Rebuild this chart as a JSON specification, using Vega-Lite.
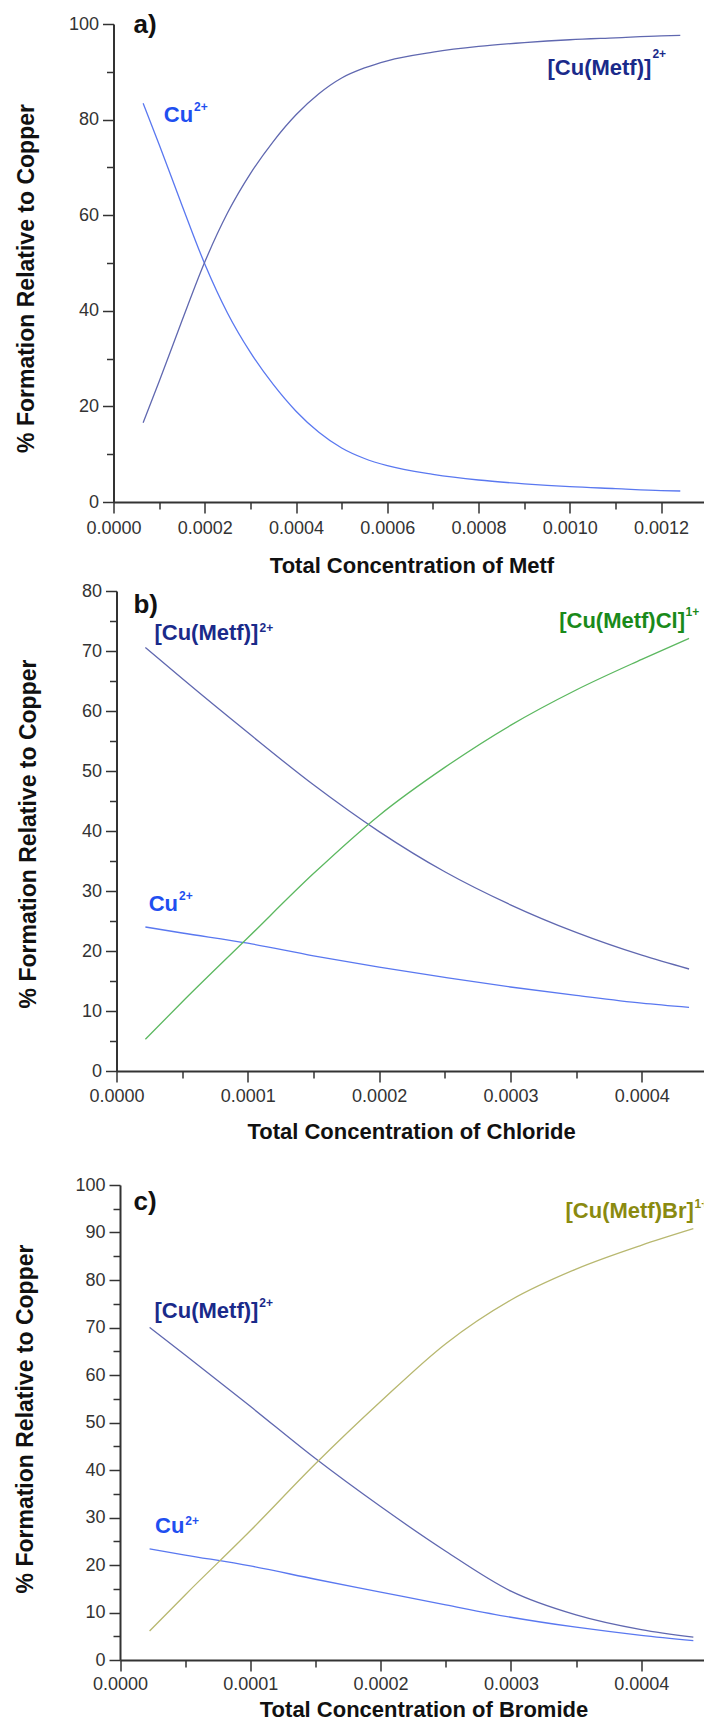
{
  "$schema": "https://vega.github.io/schema/vega-lite/v6.json",
  "autosize": {"type": "pad"},
  "padding": {"top": 12, "left": 13.5, "right": 0, "bottom": 0},
  "background": "white",
  "config": {
    "font": "Liberation Sans",
    "view": {"stroke": null},
    "axis": {
      "grid": false,
      "domainColor": "#333333",
      "domainWidth": 2,
      "tickColor": "#333333",
      "tickWidth": 1.5,
      "labelColor": "#333333",
      "labelFont": "Liberation Sans",
      "labelFontSize": 18,
      "labelFlush": false,
      "labelOverlap": false,
      "titleFont": "Liberation Sans",
      "titleFontSize": 22,
      "titleFontWeight": "bold",
      "titleColor": "#111111"
    }
  },
  "datasets": {
    "curvesA": [
      {"x": 0.000065, "sp": "Cu", "pct": 83.4}, {"x": 0.0001, "sp": "Cu", "pct": 74.8}, {"x": 0.00015, "sp": "Cu", "pct": 62.1}, {"x": 0.0002, "sp": "Cu", "pct": 49.8}, {"x": 0.00025, "sp": "Cu", "pct": 39.5}, {"x": 0.0003, "sp": "Cu", "pct": 31.3}, {"x": 0.00035, "sp": "Cu", "pct": 24.6}, {"x": 0.0004, "sp": "Cu", "pct": 19.0}, {"x": 0.00045, "sp": "Cu", "pct": 14.6}, {"x": 0.0005, "sp": "Cu", "pct": 11.3}, {"x": 0.00055, "sp": "Cu", "pct": 9.1}, {"x": 0.0006, "sp": "Cu", "pct": 7.6}, {"x": 0.0007, "sp": "Cu", "pct": 5.8}, {"x": 0.0008, "sp": "Cu", "pct": 4.6}, {"x": 0.0009, "sp": "Cu", "pct": 3.8}, {"x": 0.001, "sp": "Cu", "pct": 3.2}, {"x": 0.0011, "sp": "Cu", "pct": 2.8}, {"x": 0.0012, "sp": "Cu", "pct": 2.4}, {"x": 0.001242, "sp": "Cu", "pct": 2.3},
      {"x": 0.000065, "sp": "CuMetf", "pct": 16.6}, {"x": 0.0001, "sp": "CuMetf", "pct": 25.2}, {"x": 0.00015, "sp": "CuMetf", "pct": 37.9}, {"x": 0.0002, "sp": "CuMetf", "pct": 50.2}, {"x": 0.00025, "sp": "CuMetf", "pct": 60.5}, {"x": 0.0003, "sp": "CuMetf", "pct": 68.7}, {"x": 0.00035, "sp": "CuMetf", "pct": 75.4}, {"x": 0.0004, "sp": "CuMetf", "pct": 81.0}, {"x": 0.00045, "sp": "CuMetf", "pct": 85.4}, {"x": 0.0005, "sp": "CuMetf", "pct": 88.7}, {"x": 0.00055, "sp": "CuMetf", "pct": 90.8}, {"x": 0.0006, "sp": "CuMetf", "pct": 92.3}, {"x": 0.0007, "sp": "CuMetf", "pct": 94.1}, {"x": 0.0008, "sp": "CuMetf", "pct": 95.3}, {"x": 0.0009, "sp": "CuMetf", "pct": 96.1}, {"x": 0.001, "sp": "CuMetf", "pct": 96.7}, {"x": 0.0011, "sp": "CuMetf", "pct": 97.1}, {"x": 0.0012, "sp": "CuMetf", "pct": 97.5}, {"x": 0.001242, "sp": "CuMetf", "pct": 97.6}
    ],
    "labelsA": [
      {"x": 0.0000438, "y": 98.1, "t": "a)", "sp": "panel", "k": "letter"},
      {"x": 0.0001102, "y": 79.6, "t": "Cu", "sp": "Cu", "k": "main"},
      {"x": 0.0001764, "y": 81.7, "t": "2+", "sp": "Cu", "k": "sup"},
      {"x": 0.000951, "y": 89.3, "t": "[Cu(Metf)]", "sp": "CuMetf", "k": "main"},
      {"x": 0.001181, "y": 92.8, "t": "2+", "sp": "CuMetf", "k": "sup"}
    ],
    "curvesB": [
      {"x": 0.000022, "sp": "Cu", "pct": 24.0}, {"x": 0.00005, "sp": "Cu", "pct": 23.0}, {"x": 0.0001, "sp": "Cu", "pct": 21.3}, {"x": 0.00015, "sp": "Cu", "pct": 19.2}, {"x": 0.0002, "sp": "Cu", "pct": 17.3}, {"x": 0.00025, "sp": "Cu", "pct": 15.6}, {"x": 0.0003, "sp": "Cu", "pct": 14.0}, {"x": 0.00035, "sp": "Cu", "pct": 12.6}, {"x": 0.0004, "sp": "Cu", "pct": 11.3}, {"x": 0.000436, "sp": "Cu", "pct": 10.6},
      {"x": 0.000022, "sp": "CuMetf", "pct": 70.6}, {"x": 0.00005, "sp": "CuMetf", "pct": 65.4}, {"x": 0.0001, "sp": "CuMetf", "pct": 56.4}, {"x": 0.00015, "sp": "CuMetf", "pct": 47.7}, {"x": 0.0002, "sp": "CuMetf", "pct": 39.9}, {"x": 0.00025, "sp": "CuMetf", "pct": 33.2}, {"x": 0.0003, "sp": "CuMetf", "pct": 27.7}, {"x": 0.00035, "sp": "CuMetf", "pct": 23.1}, {"x": 0.0004, "sp": "CuMetf", "pct": 19.3}, {"x": 0.000436, "sp": "CuMetf", "pct": 17.0},
      {"x": 0.000022, "sp": "CuMetfCl", "pct": 5.3}, {"x": 0.00005, "sp": "CuMetfCl", "pct": 11.5}, {"x": 0.0001, "sp": "CuMetfCl", "pct": 22.2}, {"x": 0.00015, "sp": "CuMetfCl", "pct": 32.9}, {"x": 0.0002, "sp": "CuMetfCl", "pct": 42.6}, {"x": 0.00025, "sp": "CuMetfCl", "pct": 50.6}, {"x": 0.0003, "sp": "CuMetfCl", "pct": 57.6}, {"x": 0.00035, "sp": "CuMetfCl", "pct": 63.5}, {"x": 0.0004, "sp": "CuMetfCl", "pct": 68.6}, {"x": 0.000436, "sp": "CuMetfCl", "pct": 72.1}
    ],
    "labelsB": [
      {"x": 0.0000129, "y": 76.3, "t": "b)", "sp": "panel", "k": "letter"},
      {"x": 0.0000289, "y": 71.8, "t": "[Cu(Metf)]", "sp": "CuMetf", "k": "main"},
      {"x": 0.0001089, "y": 73.2, "t": "2+", "sp": "CuMetf", "k": "sup"},
      {"x": 0.0003371, "y": 73.8, "t": "[Cu(Metf)Cl]", "sp": "CuMetfCl", "k": "main"},
      {"x": 0.0004333, "y": 75.9, "t": "1+", "sp": "CuMetfCl", "k": "sup"},
      {"x": 0.0000245, "y": 26.7, "t": "Cu", "sp": "Cu", "k": "main"},
      {"x": 0.0000476, "y": 28.45, "t": "2+", "sp": "Cu", "k": "sup"}
    ],
    "curvesC": [
      {"x": 0.0000227, "sp": "Cu", "pct": 23.4}, {"x": 0.00005, "sp": "Cu", "pct": 22.1}, {"x": 0.0001, "sp": "Cu", "pct": 19.8}, {"x": 0.00015, "sp": "Cu", "pct": 17.0}, {"x": 0.0002, "sp": "Cu", "pct": 14.3}, {"x": 0.00025, "sp": "Cu", "pct": 11.6}, {"x": 0.0003, "sp": "Cu", "pct": 9.0}, {"x": 0.00035, "sp": "Cu", "pct": 6.9}, {"x": 0.0004, "sp": "Cu", "pct": 5.2}, {"x": 0.00044, "sp": "Cu", "pct": 4.1},
      {"x": 0.0000227, "sp": "CuMetf", "pct": 70.0}, {"x": 0.00005, "sp": "CuMetf", "pct": 64.2}, {"x": 0.0001, "sp": "CuMetf", "pct": 53.4}, {"x": 0.00015, "sp": "CuMetf", "pct": 42.4}, {"x": 0.0002, "sp": "CuMetf", "pct": 32.3}, {"x": 0.00025, "sp": "CuMetf", "pct": 22.9}, {"x": 0.0003, "sp": "CuMetf", "pct": 14.5}, {"x": 0.00035, "sp": "CuMetf", "pct": 9.5}, {"x": 0.0004, "sp": "CuMetf", "pct": 6.4}, {"x": 0.00044, "sp": "CuMetf", "pct": 4.8},
      {"x": 0.0000227, "sp": "CuMetfBr", "pct": 6.1}, {"x": 0.00005, "sp": "CuMetfBr", "pct": 13.7}, {"x": 0.0001, "sp": "CuMetfBr", "pct": 27.2}, {"x": 0.00015, "sp": "CuMetfBr", "pct": 41.3}, {"x": 0.0002, "sp": "CuMetfBr", "pct": 54.4}, {"x": 0.00025, "sp": "CuMetfBr", "pct": 66.6}, {"x": 0.0003, "sp": "CuMetfBr", "pct": 75.8}, {"x": 0.00035, "sp": "CuMetfBr", "pct": 82.3}, {"x": 0.0004, "sp": "CuMetfBr", "pct": 87.3}, {"x": 0.00044, "sp": "CuMetfBr", "pct": 90.8}
    ],
    "labelsC": [
      {"x": 0.0000104, "y": 94.7, "t": "c)", "sp": "panel", "k": "letter"},
      {"x": 0.0000265, "y": 71.9, "t": "[Cu(Metf)]", "sp": "CuMetf", "k": "main"},
      {"x": 0.0001069, "y": 74.4, "t": "2+", "sp": "CuMetf", "k": "sup"},
      {"x": 0.0003419, "y": 93.0, "t": "[Cu(Metf)Br]", "sp": "CuMetfBr", "k": "main"},
      {"x": 0.0004409, "y": 95.2, "t": "1+", "sp": "CuMetfBr", "k": "sup"},
      {"x": 0.0000269, "y": 26.7, "t": "Cu", "sp": "Cu", "k": "main"},
      {"x": 0.0000501, "y": 28.5, "t": "2+", "sp": "Cu", "k": "sup"}
    ]
  },
  "vconcat": [
    {
      "width": 590,
      "height": 478,
      "resolve": {"scale": {"color": "independent"}, "axis": {"x": "independent", "y": "independent"}},
      "layer": [
        {
          "data": {"name": "curvesA"},
          "mark": {"type": "line", "interpolate": "monotone", "strokeWidth": 1.3},
          "encoding": {
            "x": {"field": "x", "type": "quantitative", "scale": {"domain": [0, 0.0012929], "range": [0, 590], "nice": false, "zero": false},
              "axis": {"orient": "bottom", "values": [0, 0.0002, 0.0004, 0.0006, 0.0008, 0.001, 0.0012], "format": ".4f", "tickSize": 11, "labelPadding": 6.5, "title": "Total Concentration of Metf", "titleX": 298, "titleY": 70, "titleAlign": "center", "titleBaseline": "alphabetic"}},
            "y": {"field": "pct", "type": "quantitative", "scale": {"domain": [0, 100], "nice": false},
              "axis": {"orient": "left", "values": [0, 20, 40, 60, 80, 100], "format": "d", "tickSize": 11, "labelPadding": 4, "title": "% Formation Relative to Copper", "titleFontSize": 23, "titleX": -87, "titleY": 254, "titleAngle": 270, "titleAlign": "center", "titleBaseline": "middle"}},
            "color": {"field": "sp", "type": "nominal", "scale": {"domain": ["Cu", "CuMetf", "CuMetfCl", "CuMetfBr"], "range": ["#5a78f0", "#6068b0", "#5cb860", "#b8b870"]}, "legend": null}
          }
        },
        {
          "data": {"name": "labelsA"},
          "transform": [{"filter": "datum.k == 'main'"}],
          "mark": {"type": "text", "align": "left", "baseline": "alphabetic", "fontSize": 22, "fontWeight": "bold", "font": "Liberation Sans", "clip": true},
          "encoding": {
            "x": {"field": "x", "type": "quantitative", "scale": {"domain": [0, 0.0012929], "range": [0, 590], "nice": false, "zero": false},
              "axis": {"orient": "bottom", "values": [0.0001, 0.0003, 0.0005, 0.0007, 0.0009, 0.0011], "tickSize": 7, "labels": false, "domain": false, "title": null}},
            "y": {"field": "y", "type": "quantitative", "scale": {"domain": [0, 100], "nice": false},
              "axis": {"orient": "left", "values": [10, 30, 50, 70, 90], "tickSize": 7, "labels": false, "domain": false, "title": null}},
            "text": {"field": "t"},
            "color": {"field": "sp", "type": "nominal", "scale": {"domain": ["Cu", "CuMetf", "CuMetfCl", "CuMetfBr"], "range": ["#1f4ff0", "#1a2a8a", "#1a8a1a", "#8a8a10"]}, "legend": null}
          }
        },
        {
          "data": {"name": "labelsA"},
          "transform": [{"filter": "datum.k == 'sup'"}],
          "mark": {"type": "text", "align": "left", "baseline": "alphabetic", "fontSize": 12, "fontWeight": "bold", "font": "Liberation Sans", "clip": true},
          "encoding": {
            "x": {"field": "x", "type": "quantitative", "scale": {"domain": [0, 0.0012929], "range": [0, 590], "nice": false, "zero": false}, "axis": null},
            "y": {"field": "y", "type": "quantitative", "scale": {"domain": [0, 100], "nice": false}, "axis": null},
            "text": {"field": "t"},
            "color": {"field": "sp", "type": "nominal", "scale": {"domain": ["Cu", "CuMetf", "CuMetfCl", "CuMetfBr"], "range": ["#1f4ff0", "#1a2a8a", "#1a8a1a", "#8a8a10"]}, "legend": null}
          }
        },
        {
          "data": {"name": "labelsA"},
          "transform": [{"filter": "datum.k == 'letter'"}],
          "mark": {"type": "text", "align": "left", "baseline": "alphabetic", "fontSize": 26, "fontWeight": "bold", "font": "Liberation Sans", "color": "#111111", "clip": false},
          "encoding": {
            "x": {"field": "x", "type": "quantitative", "scale": {"domain": [0, 0.0012929], "range": [0, 590], "nice": false, "zero": false}, "axis": null},
            "y": {"field": "y", "type": "quantitative", "scale": {"domain": [0, 100], "nice": false}, "axis": null},
            "text": {"field": "t"}
          }
        }
      ]
    },
    {
      "width": 590,
      "height": 480,
      "resolve": {"scale": {"color": "independent"}, "axis": {"x": "independent", "y": "independent"}},
      "layer": [
        {
          "data": {"name": "curvesB"},
          "mark": {"type": "line", "interpolate": "monotone", "strokeWidth": 1.3},
          "encoding": {
            "x": {"field": "x", "type": "quantitative", "scale": {"domain": [0, 0.000447], "range": [3, 590], "nice": false, "zero": false},
              "axis": {"orient": "bottom", "values": [0, 0.0001, 0.0002, 0.0003, 0.0004], "format": ".4f", "tickSize": 11, "labelPadding": 5.5, "title": "Total Concentration of Chloride", "titleX": 297.6, "titleY": 67, "titleAlign": "center", "titleBaseline": "alphabetic"}},
            "y": {"field": "pct", "type": "quantitative", "scale": {"domain": [0, 80], "nice": false},
              "axis": {"orient": "left", "offset": -3, "values": [0, 10, 20, 30, 40, 50, 60, 70, 80], "format": "d", "tickSize": 11, "labelPadding": 4, "title": "% Formation Relative to Copper", "titleFontSize": 23, "titleX": -88, "titleY": 242.5, "titleAngle": 270, "titleAlign": "center", "titleBaseline": "middle"}},
            "color": {"field": "sp", "type": "nominal", "scale": {"domain": ["Cu", "CuMetf", "CuMetfCl", "CuMetfBr"], "range": ["#5a78f0", "#6068b0", "#5cb860", "#b8b870"]}, "legend": null}
          }
        },
        {
          "data": {"name": "labelsB"},
          "transform": [{"filter": "datum.k == 'main'"}],
          "mark": {"type": "text", "align": "left", "baseline": "alphabetic", "fontSize": 22, "fontWeight": "bold", "font": "Liberation Sans", "clip": true},
          "encoding": {
            "x": {"field": "x", "type": "quantitative", "scale": {"domain": [0, 0.000447], "range": [3, 590], "nice": false, "zero": false},
              "axis": {"orient": "bottom", "values": [0.00005, 0.00015, 0.00025, 0.00035], "tickSize": 7, "labels": false, "domain": false, "title": null}},
            "y": {"field": "y", "type": "quantitative", "scale": {"domain": [0, 80], "nice": false},
              "axis": {"orient": "left", "offset": -3, "values": [5, 15, 25, 35, 45, 55, 65, 75], "tickSize": 7, "labels": false, "domain": false, "title": null}},
            "text": {"field": "t"},
            "color": {"field": "sp", "type": "nominal", "scale": {"domain": ["Cu", "CuMetf", "CuMetfCl", "CuMetfBr"], "range": ["#1f4ff0", "#1a2a8a", "#1a8a1a", "#8a8a10"]}, "legend": null}
          }
        },
        {
          "data": {"name": "labelsB"},
          "transform": [{"filter": "datum.k == 'sup'"}],
          "mark": {"type": "text", "align": "left", "baseline": "alphabetic", "fontSize": 12, "fontWeight": "bold", "font": "Liberation Sans", "clip": true},
          "encoding": {
            "x": {"field": "x", "type": "quantitative", "scale": {"domain": [0, 0.000447], "range": [3, 590], "nice": false, "zero": false}, "axis": null},
            "y": {"field": "y", "type": "quantitative", "scale": {"domain": [0, 80], "nice": false}, "axis": null},
            "text": {"field": "t"},
            "color": {"field": "sp", "type": "nominal", "scale": {"domain": ["Cu", "CuMetf", "CuMetfCl", "CuMetfBr"], "range": ["#1f4ff0", "#1a2a8a", "#1a8a1a", "#8a8a10"]}, "legend": null}
          }
        },
        {
          "data": {"name": "labelsB"},
          "transform": [{"filter": "datum.k == 'letter'"}],
          "mark": {"type": "text", "align": "left", "baseline": "alphabetic", "fontSize": 26, "fontWeight": "bold", "font": "Liberation Sans", "color": "#111111", "clip": false},
          "encoding": {
            "x": {"field": "x", "type": "quantitative", "scale": {"domain": [0, 0.000447], "range": [3, 590], "nice": false, "zero": false}, "axis": null},
            "y": {"field": "y", "type": "quantitative", "scale": {"domain": [0, 80], "nice": false}, "axis": null},
            "text": {"field": "t"}
          }
        }
      ]
    },
    {
      "width": 590,
      "height": 500,
      "resolve": {"scale": {"color": "independent"}, "axis": {"x": "independent", "y": "independent"}},
      "layer": [
        {
          "data": {"name": "curvesC"},
          "mark": {"type": "line", "interpolate": "monotone", "strokeWidth": 1.3},
          "encoding": {
            "x": {"field": "x", "type": "quantitative", "scale": {"domain": [0, 0.0004478], "range": [6.5, 590], "nice": false, "zero": false},
              "axis": {"orient": "bottom", "values": [0, 0.0001, 0.0002, 0.0003, 0.0004], "format": ".4f", "tickSize": 11, "labelPadding": 4.5, "title": "Total Concentration of Bromide", "titleX": 310, "titleY": 56, "titleAlign": "center", "titleBaseline": "alphabetic"}},
            "y": {"field": "pct", "type": "quantitative", "scale": {"domain": [0, 100], "range": [500, 25], "nice": false},
              "axis": {"orient": "left", "offset": -6.5, "values": [0, 10, 20, 30, 40, 50, 60, 70, 80, 90, 100], "format": "d", "tickSize": 11, "labelPadding": 4, "title": "% Formation Relative to Copper", "titleFontSize": 23, "titleX": -94.5, "titleY": 258.5, "titleAngle": 270, "titleAlign": "center", "titleBaseline": "middle"}},
            "color": {"field": "sp", "type": "nominal", "scale": {"domain": ["Cu", "CuMetf", "CuMetfCl", "CuMetfBr"], "range": ["#5a78f0", "#6068b0", "#5cb860", "#b8b870"]}, "legend": null}
          }
        },
        {
          "data": {"name": "labelsC"},
          "transform": [{"filter": "datum.k == 'main'"}],
          "mark": {"type": "text", "align": "left", "baseline": "alphabetic", "fontSize": 22, "fontWeight": "bold", "font": "Liberation Sans", "clip": true},
          "encoding": {
            "x": {"field": "x", "type": "quantitative", "scale": {"domain": [0, 0.0004478], "range": [6.5, 590], "nice": false, "zero": false},
              "axis": {"orient": "bottom", "values": [0.00005, 0.00015, 0.00025, 0.00035], "tickSize": 7, "labels": false, "domain": false, "title": null}},
            "y": {"field": "y", "type": "quantitative", "scale": {"domain": [0, 100], "range": [500, 25], "nice": false},
              "axis": {"orient": "left", "offset": -6.5, "values": [5, 15, 25, 35, 45, 55, 65, 75, 85, 95], "tickSize": 7, "labels": false, "domain": false, "title": null}},
            "text": {"field": "t"},
            "color": {"field": "sp", "type": "nominal", "scale": {"domain": ["Cu", "CuMetf", "CuMetfCl", "CuMetfBr"], "range": ["#1f4ff0", "#1a2a8a", "#1a8a1a", "#8a8a10"]}, "legend": null}
          }
        },
        {
          "data": {"name": "labelsC"},
          "transform": [{"filter": "datum.k == 'sup'"}],
          "mark": {"type": "text", "align": "left", "baseline": "alphabetic", "fontSize": 12, "fontWeight": "bold", "font": "Liberation Sans", "clip": true},
          "encoding": {
            "x": {"field": "x", "type": "quantitative", "scale": {"domain": [0, 0.0004478], "range": [6.5, 590], "nice": false, "zero": false}, "axis": null},
            "y": {"field": "y", "type": "quantitative", "scale": {"domain": [0, 100], "range": [500, 25], "nice": false}, "axis": null},
            "text": {"field": "t"},
            "color": {"field": "sp", "type": "nominal", "scale": {"domain": ["Cu", "CuMetf", "CuMetfCl", "CuMetfBr"], "range": ["#1f4ff0", "#1a2a8a", "#1a8a1a", "#8a8a10"]}, "legend": null}
          }
        },
        {
          "data": {"name": "labelsC"},
          "transform": [{"filter": "datum.k == 'letter'"}],
          "mark": {"type": "text", "align": "left", "baseline": "alphabetic", "fontSize": 26, "fontWeight": "bold", "font": "Liberation Sans", "color": "#111111", "clip": false},
          "encoding": {
            "x": {"field": "x", "type": "quantitative", "scale": {"domain": [0, 0.0004478], "range": [6.5, 590], "nice": false, "zero": false}, "axis": null},
            "y": {"field": "y", "type": "quantitative", "scale": {"domain": [0, 100], "range": [500, 25], "nice": false}, "axis": null},
            "text": {"field": "t"}
          }
        }
      ]
    }
  ],
  "spacing": 89,
  "bounds": "flush"
}
